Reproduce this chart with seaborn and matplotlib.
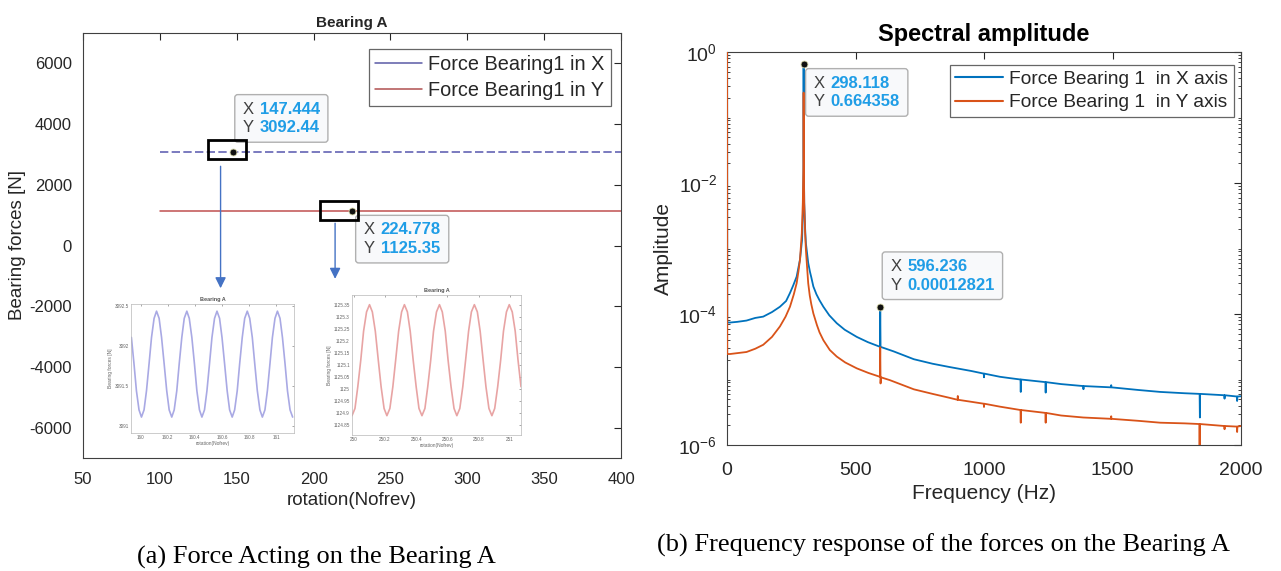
import numpy as np
import pandas as pd
import matplotlib
matplotlib.use("Agg")
import matplotlib.pyplot as plt
import seaborn as sns
from matplotlib.lines import Line2D
from matplotlib.patches import Rectangle, FancyBboxPatch
from matplotlib.transforms import Bbox, IdentityTransform
from matplotlib import ticker

sns.set_theme(style="white")
plt.rcParams["font.family"] = ["Liberation Sans", "DejaVu Sans"]
plt.rcParams["mathtext.fontset"] = "custom"
plt.rcParams["mathtext.rm"] = "Liberation Sans"
plt.rcParams["mathtext.it"] = "Liberation Sans:italic"
plt.rcParams["mathtext.default"] = "regular"
plt.rcParams["axes.unicode_minus"] = False

# ---------------- data: (a) bearing forces ----------------
rotation_main = [100, 400]
force_x_main = [3092.0, 3092.0]
force_y_main = [1125.0, 1125.0]
series_names_left = ["Force Bearing1 in X", "Force Bearing1 in Y"]

tip_left_x = [147.444, 224.778]
tip_left_y = [3092.44, 1125.35]

# inset 1 (force in X, zoom on 160..161 rev)
inset1_rot = [159.933, 159.952, 159.970, 159.989, 160.007, 160.026, 160.044, 160.063,
              160.081, 160.100, 160.118, 160.137, 160.155, 160.174, 160.193, 160.211,
              160.230, 160.248, 160.267, 160.285, 160.304, 160.322, 160.341, 160.359,
              160.378, 160.397, 160.415, 160.434, 160.452, 160.471, 160.489, 160.508,
              160.526, 160.545, 160.563, 160.582, 160.600, 160.619, 160.638, 160.656,
              160.675, 160.693, 160.712, 160.730, 160.749, 160.767, 160.786, 160.804,
              160.823, 160.841, 160.860, 160.879, 160.897, 160.916, 160.934, 160.953,
              160.971, 160.990, 161.008, 161.027, 161.045, 161.064, 161.082, 161.101,
              161.120]
inset1_force = [3092.11, 3091.78, 3091.44, 3091.20, 3091.11, 3091.20, 3091.44, 3091.78,
                3092.11, 3092.35, 3092.44, 3092.35, 3092.11, 3091.78, 3091.44, 3091.20,
                3091.11, 3091.20, 3091.44, 3091.78, 3092.11, 3092.35, 3092.44, 3092.35,
                3092.11, 3091.78, 3091.44, 3091.20, 3091.11, 3091.20, 3091.44, 3091.78,
                3092.11, 3092.35, 3092.44, 3092.35, 3092.11, 3091.78, 3091.44, 3091.20,
                3091.11, 3091.20, 3091.44, 3091.78, 3092.11, 3092.35, 3092.44, 3092.35,
                3092.11, 3091.78, 3091.44, 3091.20, 3091.11, 3091.20, 3091.44, 3091.78,
                3092.11, 3092.35, 3092.44, 3092.35, 3092.11, 3091.78, 3091.44, 3091.20,
                3091.11]
inset1_xticks = [160, 160.2, 160.4, 160.6, 160.8, 161]
inset1_xlabels = ["160", "160.2", "160.4", "160.6", "160.8", "161"]
inset1_yticks = [3091, 3091.5, 3092, 3092.5]
inset1_ylabels = ["3091", "3091.5", "3092", "3092.5"]

# inset 2 (force in Y, zoom on 250..251 rev)
inset2_rot = [249.990, 250.009, 250.027, 250.046, 250.064, 250.083, 250.102, 250.120,
              250.139, 250.158, 250.176, 250.195, 250.213, 250.232, 250.251, 250.269,
              250.288, 250.307, 250.325, 250.344, 250.362, 250.381, 250.400, 250.418,
              250.437, 250.456, 250.474, 250.493, 250.511, 250.530, 250.549, 250.567,
              250.586, 250.604, 250.623, 250.642, 250.660, 250.679, 250.698, 250.716,
              250.735, 250.753, 250.772, 250.791, 250.809, 250.828, 250.846, 250.865,
              250.884, 250.902, 250.921, 250.940, 250.958, 250.977, 250.995, 251.014,
              251.033, 251.051, 251.070]
inset2_force = [1124.89, 1124.92, 1125.01, 1125.12, 1125.24, 1125.32, 1125.35, 1125.32,
                1125.24, 1125.12, 1125.01, 1124.92, 1124.89, 1124.92, 1125.01, 1125.12,
                1125.24, 1125.32, 1125.35, 1125.32, 1125.24, 1125.12, 1125.01, 1124.92,
                1124.89, 1124.92, 1125.01, 1125.12, 1125.24, 1125.32, 1125.35, 1125.32,
                1125.24, 1125.12, 1125.01, 1124.92, 1124.89, 1124.92, 1125.01, 1125.12,
                1125.24, 1125.32, 1125.35, 1125.32, 1125.24, 1125.12, 1125.01, 1124.92,
                1124.89, 1124.92, 1125.01, 1125.12, 1125.24, 1125.32, 1125.35, 1125.32,
                1125.24, 1125.12, 1125.01]
inset2_xticks = [250, 250.2, 250.4, 250.6, 250.8, 251]
inset2_xlabels = ["250", "250.2", "250.4", "250.6", "250.8", "251"]
inset2_yticks = [1124.85, 1124.9, 1124.95, 1125, 1125.05, 1125.1, 1125.15, 1125.2,
                 1125.25, 1125.3, 1125.35]
inset2_ylabels = ["1124.85", "1124.9", "1124.95", "1125", "1125.05", "1125.1", "1125.15",
                  "1125.2", "1125.25", "1125.3", "1125.35"]

left_xticks = [50, 100, 150, 200, 250, 300, 350, 400]
left_yticks = [-6000, -4000, -2000, 0, 2000, 4000, 6000]

# ---------------- data: (b) spectral amplitude ----------------
freq_x = [0, 1, 12, 40, 76, 110, 141, 175, 206, 230, 245, 258, 271, 284, 292, 296, 297.5,
          298.118, 299, 300.5, 304, 307, 316, 323, 328, 336, 348, 360, 375, 398, 427, 458,
          505, 548, 595, 596.236, 597.5, 648, 727, 800, 866, 950, 999, 1000, 1001, 1062,
          1100, 1142, 1143, 1144, 1239, 1240, 1241, 1300, 1386, 1387, 1388, 1494, 1495,
          1496, 1600, 1686, 1780, 1839, 1840, 1841, 1935, 1936, 1937, 1984, 1985, 1986,
          2000]
amp_x = [3092, 7.4e-5, 7.41e-5, 7.59e-5, 7.94e-5, 8.71e-5, 9.12e-5, 1.07e-4, 1.29e-4,
         1.58e-4, 2.09e-4, 2.75e-4, 3.72e-4, 6.76e-4, 1.35e-3, 4.0e-3, 1.4e-2, 0.664358,
         2.5e-2, 5.0e-3, 2.0e-3, 1.20e-3, 6.03e-4, 4.37e-4, 3.63e-4, 2.63e-4, 2.00e-4,
         1.62e-4, 1.29e-4, 9.55e-5, 7.24e-5, 5.75e-5, 4.47e-5, 3.72e-5, 3.16e-5,
         1.2821e-4, 3.15e-5, 2.69e-5, 2.04e-5, 1.74e-5, 1.55e-5, 1.35e-5, 1.23e-5,
         1.08e-5, 1.23e-5, 1.10e-5, 1.05e-5, 1.0e-5, 6.46e-6, 1.0e-5, 9.12e-6, 6.31e-6,
         9.12e-6, 8.51e-6, 7.94e-6, 7.1e-6, 7.94e-6, 7.59e-6, 8.2e-6, 7.59e-6, 6.92e-6,
         6.46e-6, 6.17e-6, 6.03e-6, 2.63e-6, 6.03e-6, 5.75e-6, 5.1e-6, 5.75e-6, 5.50e-6,
         4.7e-6, 5.50e-6, 5.55e-6]
freq_y = [0, 1, 12, 76, 110, 141, 175, 206, 228, 245, 260, 271, 278, 284, 291, 295, 297.5,
          298.118, 299, 300.5, 304, 307, 311, 316, 322, 328, 336, 350, 360, 375, 400, 427,
          460, 505, 550, 595, 596.236, 597.5, 599, 634, 727, 800, 866, 897, 898, 899, 950,
          999, 1000, 1001, 1062, 1142, 1143, 1144, 1239, 1240, 1241, 1300, 1386, 1494,
          1495, 1496, 1600, 1686, 1780, 1838, 1839, 1840, 1935, 1936, 1937, 1984, 1985,
          1986, 2000]
amp_y = [1125, 2.45e-5, 2.45e-5, 2.63e-5, 2.95e-5, 3.39e-5, 4.47e-5, 6.46e-5, 9.12e-5,
         1.29e-4, 2.00e-4, 2.95e-4, 4.47e-4, 6.76e-4, 1.70e-3, 5.0e-3, 2.0e-2, 0.24,
         2.0e-2, 5.0e-3, 1.7e-3, 9.55e-4, 5.62e-4, 2.95e-4, 1.91e-4, 1.41e-4, 1.02e-4,
         6.76e-5, 5.25e-5, 3.98e-5, 2.82e-5, 2.24e-5, 1.82e-5, 1.48e-5, 1.26e-5, 1.10e-5,
         3.1e-5, 8.7e-6, 1.08e-5, 9.77e-6, 7.08e-6, 6.03e-6, 5.25e-6, 4.9e-6, 5.6e-6,
         4.9e-6, 4.57e-6, 4.27e-6, 3.8e-6, 4.27e-6, 3.85e-6, 3.42e-6, 2.19e-6, 3.42e-6,
         3.09e-6, 2.19e-6, 3.09e-6, 2.82e-6, 2.63e-6, 2.51e-6, 2.75e-6, 2.51e-6, 2.34e-6,
         2.19e-6, 2.14e-6, 2.09e-6, 8.0e-7, 2.09e-6, 1.95e-6, 1.74e-6, 1.95e-6, 1.91e-6,
         1.58e-6, 1.91e-6, 1.95e-6]
series_names_right = ["Force Bearing 1  in X axis", "Force Bearing 1  in Y axis"]
tip_right_x = [298.118, 596.236]
tip_right_y = [0.664358, 0.00012821]
tip_right_ytxt = ["0.664358", "0.00012821"]
right_xticks = [0, 500, 1000, 1500, 2000]
right_yticks = [1e-6, 1e-4, 1e-2, 1e0]

# ---------------- figure ----------------
W, H = 1281, 571
fig = plt.figure(figsize=(W / 100, H / 100), dpi=100)


def box(l, r, t, b):
    return [l / W, 1 - b / H, (r - l) / W, (b - t) / H]


TXT = "#262626"
BLUE_ML = "#0072BD"
ORANGE_ML = "#D95319"
TIPBLUE = "#1f9de6"
tips = []


def datatip(ax, x, y, xs, ys, dx, dy, fs=12):
    ax.plot([x], [y], "o", ms=5, color="#111111", mec="#dcdcb0", mew=0.6, zorder=13,
            clip_on=False)
    kw = dict(xy=(x, y), xytext=(dx, dy), textcoords="offset pixels", ha="left",
              va="top", fontsize=fs, linespacing=1.3, annotation_clip=False, zorder=12)
    t1 = ax.annotate("X\nY", color="#404040", **kw)
    kw["xytext"] = (dx + 17, dy)
    t2 = ax.annotate(f"{xs}\n{ys}", color=TIPBLUE, fontweight="bold", **kw)
    tips.append((ax, t1, t2))


# ---- left main axes ----
axL = fig.add_axes(box(83, 621, 33, 458))
df_x = pd.DataFrame({"rotation": rotation_main, "force": force_x_main})
df_y = pd.DataFrame({"rotation": rotation_main, "force": force_y_main})
sns.lineplot(data=df_x, x="rotation", y="force", ax=axL, color="#6464b4", lw=1.2,
             linestyle=(0, (5, 2)), sort=False, estimator=None)
sns.lineplot(data=df_y, x="rotation", y="force", ax=axL, color="#c05050", lw=1.1,
             sort=False, estimator=None)
axL.set_xlim(50, 400)
axL.set_ylim(-7000, 7000)
axL.set_xticks(left_xticks)
axL.set_yticks(left_yticks)
axL.tick_params(direction="in", length=5, width=0.8, top=True, right=True,
                labelsize=12, colors=TXT)
axL.tick_params(axis="x", pad=10)
axL.tick_params(axis="y", pad=8)
axL.set_xlabel("rotation(Nofrev)", fontsize=13.5, color=TXT, labelpad=4)
axL.set_ylabel("Bearing forces [N]", fontsize=13.5, color=TXT, labelpad=2)
axL.set_title("Bearing A", fontsize=11, fontweight="bold", color=TXT, pad=4)
for s in axL.spines.values():
    s.set_color("#404040")
    s.set_linewidth(0.8)
handles = [Line2D([], [], color="#5a5aa6", lw=1.1), Line2D([], [], color="#b05050", lw=1.1)]
legL = axL.legend(handles, series_names_left, loc="upper right",
                  bbox_to_anchor=(0.981, 0.962), fontsize=14.3, frameon=True,
                  fancybox=False, edgecolor="#404040", handlelength=2.4,
                  handletextpad=0.3, borderpad=0.3, labelspacing=0.35,
                  borderaxespad=0)
legL.get_frame().set_linewidth(0.9)

# highlight boxes and arrows
axL.add_patch(Rectangle((131.3, 2843), 24.8, 628, fill=False, lw=2, ec="black", zorder=14))
axL.add_patch(Rectangle((204.2, 826), 24.7, 629, fill=False, lw=2, ec="black", zorder=14))
axL.annotate("", xy=(139.5, -1500), xytext=(139.5, 2700),
             arrowprops=dict(arrowstyle="-|>", color="#4472c4", lw=1, mutation_scale=16))
axL.annotate("", xy=(214, -1190), xytext=(214, 826),
             arrowprops=dict(arrowstyle="-|>", color="#4472c4", lw=1, mutation_scale=16))

datatip(axL, tip_left_x[0], tip_left_y[0], "147.444", "3092.44", 10, 50)
datatip(axL, tip_left_x[1], tip_left_y[1], "224.778", "1125.35", 12, -11)


def style_inset(ax, title):
    ax.set_title(title, fontsize=4, fontweight="bold", color="#555555", pad=2)
    ax.tick_params(direction="in", length=1.5, width=0.4, top=True, right=True,
                   labelsize=3.3, colors="#666666", pad=1.5)
    ax.set_xlabel("rotation(Nofrev)", fontsize=3.5, color="#666666", labelpad=1)
    ax.set_ylabel("Bearing forces [N]", fontsize=3.5, color="#666666", labelpad=1)
    for s in ax.spines.values():
        s.set_color("#b8b8b8")
        s.set_linewidth(0.5)


ax1 = fig.add_axes(box(131, 294, 304, 433))
sns.lineplot(x=inset1_rot, y=inset1_force, ax=ax1, color="#a9a9e4", lw=1.2, sort=False,
             estimator=None)
ax1.set_xlim(159.93, 161.13)
ax1.set_ylim(3090.91, 3092.53)
ax1.set_xticks(inset1_xticks, inset1_xlabels)
ax1.set_yticks(inset1_yticks, inset1_ylabels)
style_inset(ax1, "Bearing A")

ax2 = fig.add_axes(box(352, 521, 295, 435))
sns.lineplot(x=inset2_rot, y=inset2_force, ax=ax2, color="#e8a4a4", lw=1.2, sort=False,
             estimator=None)
ax2.set_xlim(249.99, 251.07)
ax2.set_ylim(1124.81, 1125.39)
ax2.set_xticks(inset2_xticks, inset2_xlabels)
ax2.set_yticks(inset2_yticks, inset2_ylabels)
style_inset(ax2, "Bearing A")

# ---- right spectrum axes ----
axR = fig.add_axes(box(727, 1241, 52, 445))
axR.set_yscale("log")
sns.lineplot(x=freq_x, y=amp_x, ax=axR, color=BLUE_ML, lw=1.3, sort=False, estimator=None,
             zorder=3)
sns.lineplot(x=freq_y, y=amp_y, ax=axR, color=ORANGE_ML, lw=1.3, sort=False,
             estimator=None, zorder=3)
axR.set_xlim(0, 2000)
axR.set_ylim(1e-6, 1)
axR.set_xticks(right_xticks)
axR.yaxis.set_major_locator(ticker.FixedLocator(right_yticks))
axR.yaxis.set_major_formatter(ticker.LogFormatterSciNotation())
axR.yaxis.set_minor_locator(ticker.LogLocator(base=10, subs=np.arange(1, 10), numticks=20))
axR.yaxis.set_minor_formatter(ticker.NullFormatter())
axR.tick_params(which="major", direction="in", length=5, width=0.8, top=True, right=True,
                labelsize=14, colors=TXT)
axR.tick_params(axis="x", which="major", pad=12)
axR.tick_params(axis="y", which="major", pad=7)
axR.tick_params(which="minor", direction="in", length=2.5, width=0.6, left=True,
                right=True, colors=TXT)
axR.set_xlabel("Frequency (Hz)", fontsize=15, color=TXT, labelpad=4)
axR.set_ylabel("Amplitude", fontsize=15, color=TXT, labelpad=4)
axR.set_title("Spectral amplitude", fontsize=17, fontweight="bold", color="black", pad=8)
for s in axR.spines.values():
    s.set_color("#404040")
    s.set_linewidth(0.8)
handlesR = [Line2D([], [], color=BLUE_ML, lw=1.5), Line2D([], [], color=ORANGE_ML, lw=1.5)]
legR = axR.legend(handlesR, series_names_right, loc="upper right",
                  bbox_to_anchor=(0.986, 0.967), fontsize=13.8, frameon=True,
                  fancybox=False, edgecolor="#404040", handlelength=2.5,
                  handletextpad=0.3, borderpad=0.3, labelspacing=0.3, borderaxespad=0)
legR.get_frame().set_linewidth(0.9)

datatip(axR, tip_right_x[0], tip_right_y[0], "298.118", tip_right_ytxt[0], 10, -12)
datatip(axR, tip_right_x[1], tip_right_y[1], "596.236", tip_right_ytxt[1], 10, 48)

# captions
fig.text(316 / W, 1 - 557 / H, "(a) Force Acting on the Bearing A", ha="center",
         va="center", fontsize=19, family=["Liberation Serif", "DejaVu Serif"],
         color="black")
fig.text(943 / W, 1 - 545 / H, "(b) Frequency response of the forces on the Bearing A",
         ha="center", va="center", fontsize=19, family=["Liberation Serif", "DejaVu Serif"],
         color="black")

# datatip boxes sized around their texts
fig.canvas.draw()
renderer = fig.canvas.get_renderer()
for ax, t1, t2 in tips:
    bb = Bbox.union([t1.get_window_extent(renderer), t2.get_window_extent(renderer)])
    padx, pady = 8, 7
    p = FancyBboxPatch((bb.x0 - padx, bb.y0 - pady), bb.width + 2 * padx,
                       bb.height + 2 * pady,
                       boxstyle="round,pad=0,rounding_size=3", fc="#f8f9fb",
                       ec="#b0b0b0", lw=1, transform=IdentityTransform(), zorder=11,
                       clip_on=False)
    ax.add_patch(p)

fig.savefig("out.png", dpi=100, facecolor="white")
